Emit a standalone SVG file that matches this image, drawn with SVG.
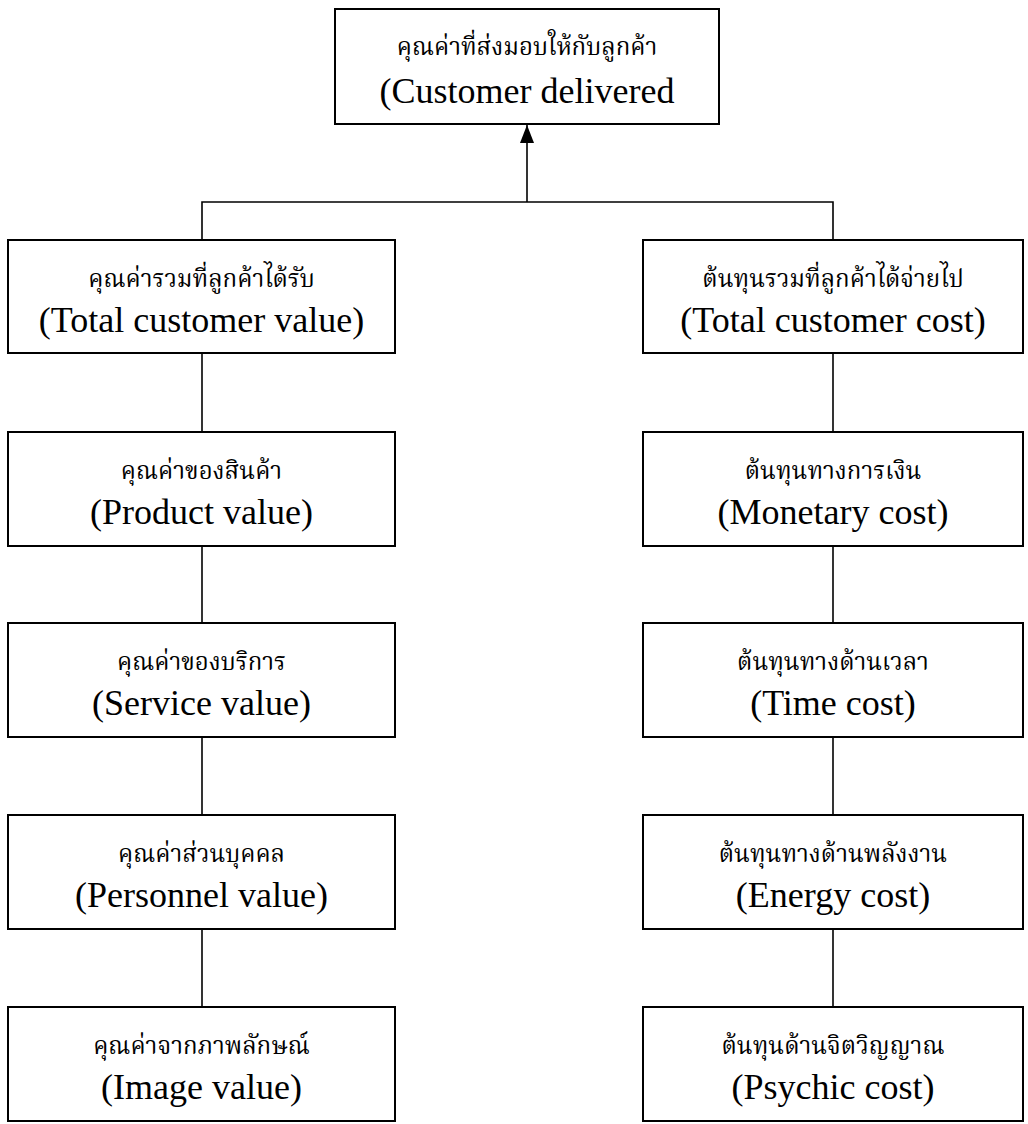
<svg xmlns="http://www.w3.org/2000/svg" width="1028" height="1124" viewBox="0 0 1028 1124">
<style>
.box{fill:#fff;stroke:#000;stroke-width:2}
.con{fill:none;stroke:#000;stroke-width:1.6}
.th{font-family:"Liberation Serif","Noto Serif Thai","Noto Sans Thai","Norasi","Loma","Garuda","DejaVu Serif",serif;font-size:24px;text-anchor:middle;fill:#000}
.en{font-family:"Liberation Serif","Times New Roman",serif;font-size:36px;text-anchor:middle;fill:#000}
</style>
<defs>
<marker id="arr" markerWidth="18" markerHeight="14" refX="18" refY="7" orient="auto" markerUnits="userSpaceOnUse" viewBox="0 0 18 14">
<path d="M0,0 L18,7 L0,14 Z" fill="#000"/>
</marker>
</defs>
<rect width="1028" height="1124" fill="#fff"/>
<g id="connectors">
<path class="con" d="M527,202 V125" marker-end="url(#arr)"/>
<path class="con" d="M202,240 V202 H833 V240"/>
<path class="con" d="M202,353 V432"/>
<path class="con" d="M202,546 V623"/>
<path class="con" d="M202,737 V815"/>
<path class="con" d="M202,929 V1007"/>
<path class="con" d="M833,353 V432"/>
<path class="con" d="M833,546 V623"/>
<path class="con" d="M833,737 V815"/>
<path class="con" d="M833,929 V1007"/>
</g>
<g id="n0"><rect class="box" x="335" y="9" width="384" height="115"/><text class="th" x="527" y="55">คุณค่าที่ส่งมอบให้กับลูกค้า</text><text class="en" x="527" y="103">(Customer delivered</text></g>
<g id="n1"><rect class="box" x="8" y="240" width="387" height="113"/><text class="th" x="201.5" y="287">คุณค่ารวมที่ลูกค้าได้รับ</text><text class="en" x="201.5" y="332">(Total customer value)</text></g>
<g id="n2"><rect class="box" x="8" y="432" width="387" height="114"/><text class="th" x="201.5" y="479">คุณค่าของสินค้า</text><text class="en" x="201.5" y="524">(Product value)</text></g>
<g id="n3"><rect class="box" x="8" y="623" width="387" height="114"/><text class="th" x="201.5" y="670">คุณค่าของบริการ</text><text class="en" x="201.5" y="715">(Service value)</text></g>
<g id="n4"><rect class="box" x="8" y="815" width="387" height="114"/><text class="th" x="201.5" y="862">คุณค่าส่วนบุคคล</text><text class="en" x="201.5" y="907">(Personnel value)</text></g>
<g id="n5"><rect class="box" x="8" y="1007" width="387" height="114"/><text class="th" x="201.5" y="1054">คุณค่าจากภาพลักษณ์</text><text class="en" x="201.5" y="1099">(Image value)</text></g>
<g id="n6"><rect class="box" x="643" y="240" width="380" height="113"/><text class="th" x="833" y="287">ต้นทุนรวมที่ลูกค้าได้จ่ายไป</text><text class="en" x="833" y="332">(Total customer cost)</text></g>
<g id="n7"><rect class="box" x="643" y="432" width="380" height="114"/><text class="th" x="833" y="479">ต้นทุนทางการเงิน</text><text class="en" x="833" y="524">(Monetary cost)</text></g>
<g id="n8"><rect class="box" x="643" y="623" width="380" height="114"/><text class="th" x="833" y="670">ต้นทุนทางด้านเวลา</text><text class="en" x="833" y="715">(Time cost)</text></g>
<g id="n9"><rect class="box" x="643" y="815" width="380" height="114"/><text class="th" x="833" y="862">ต้นทุนทางด้านพลังงาน</text><text class="en" x="833" y="907">(Energy cost)</text></g>
<g id="n10"><rect class="box" x="643" y="1007" width="380" height="114"/><text class="th" x="833" y="1054">ต้นทุนด้านจิตวิญญาณ</text><text class="en" x="833" y="1099">(Psychic cost)</text></g>
</svg>
